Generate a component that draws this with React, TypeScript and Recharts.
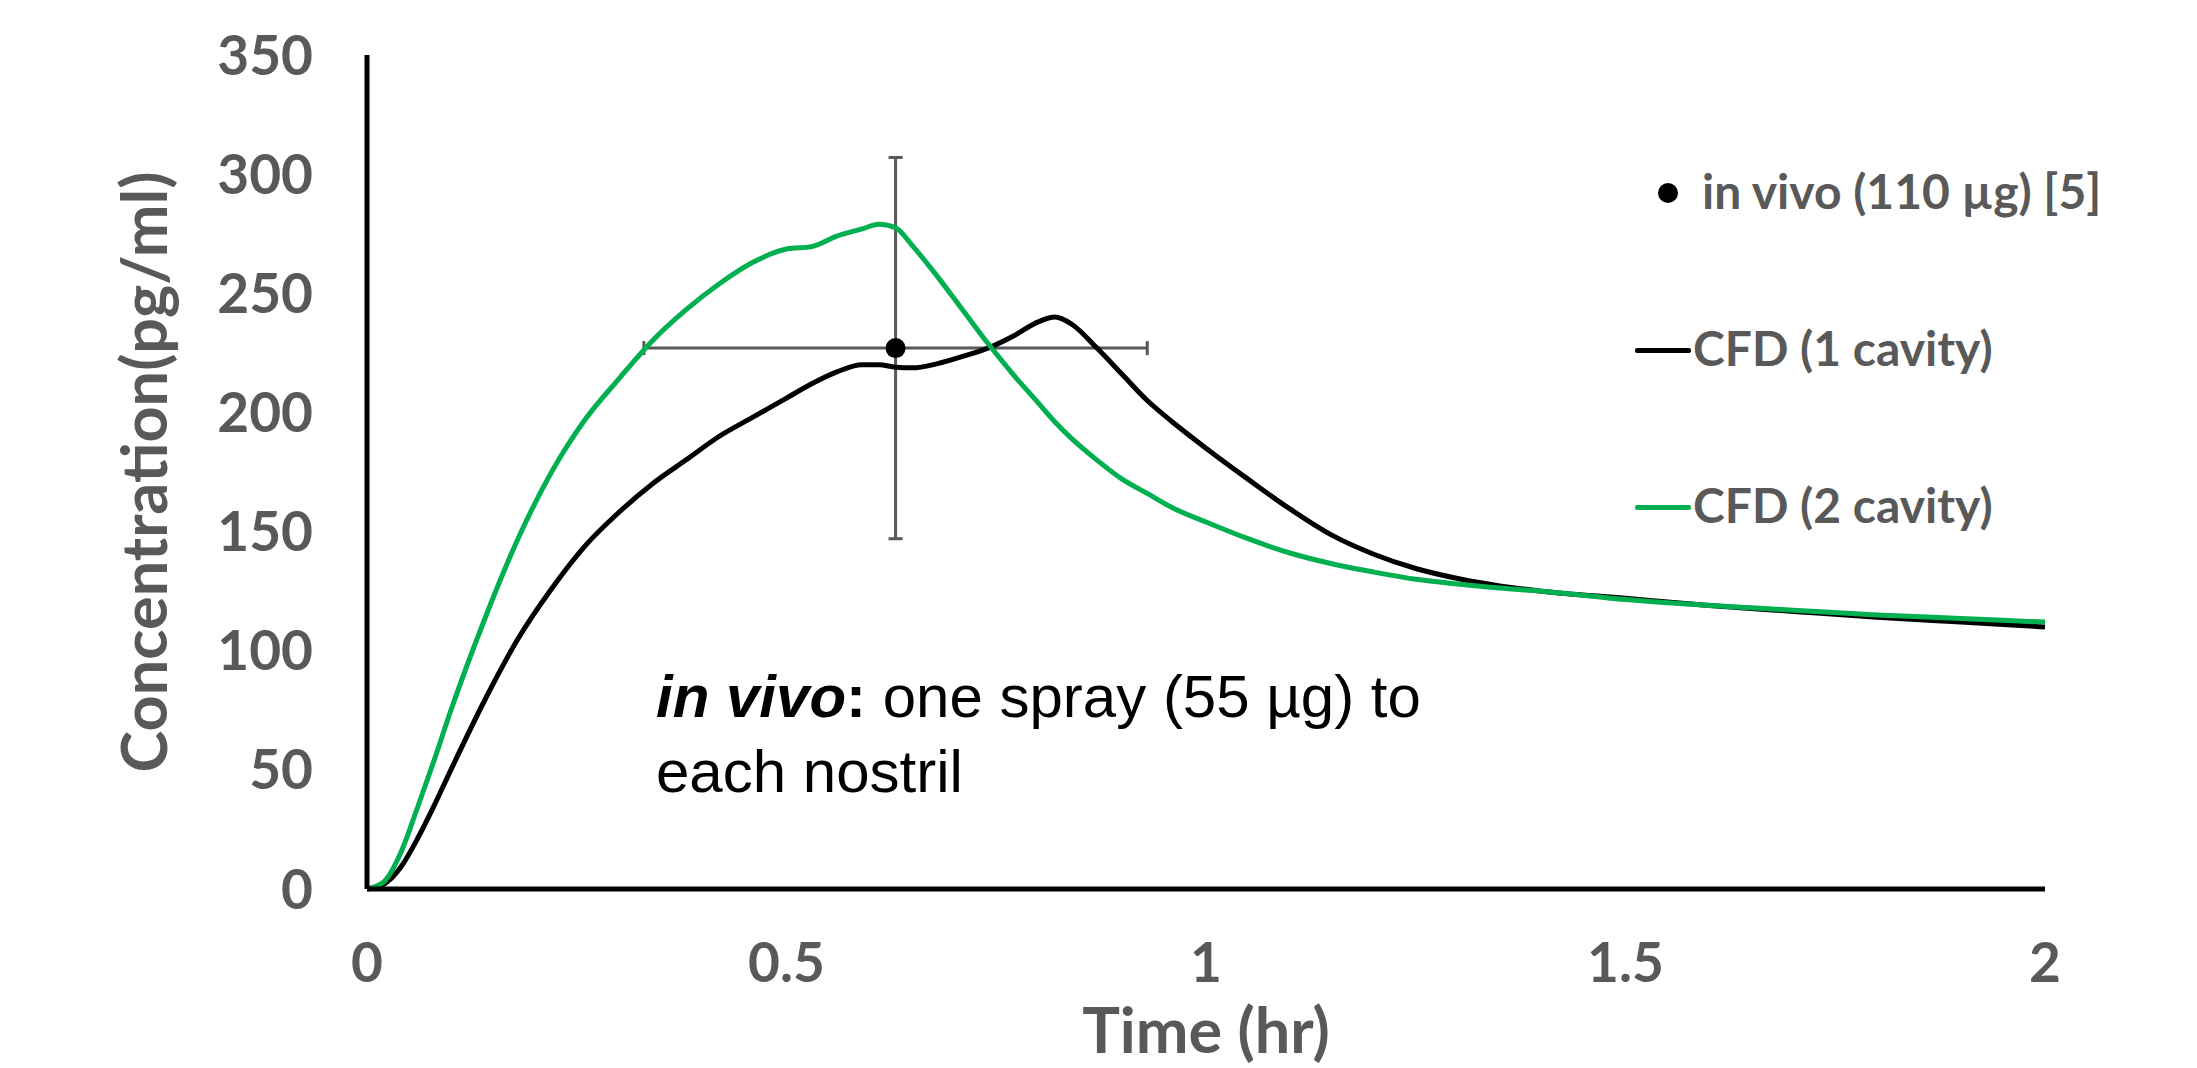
import React from "react";
import { ComposedChart, Line, Scatter, ErrorBar, XAxis, YAxis, Label } from "recharts";

// time points (hr) shared by both CFD curves
const times = [
  0, 0.02, 0.04, 0.06, 0.08, 0.1, 0.14, 0.18, 0.22, 0.26, 0.3, 0.34, 0.38, 0.42, 0.46, 0.5,
  0.53, 0.56, 0.59, 0.61, 0.63, 0.65, 0.68, 0.71, 0.74, 0.77, 0.8, 0.82, 0.84, 0.87, 0.9,
  0.93, 0.96, 1.0, 1.05, 1.1, 1.15, 1.2, 1.25, 1.3, 1.35, 1.4, 1.5, 1.6, 1.7, 1.8, 1.9, 2.0,
];
const cfdOneCavity = [
  0, 2, 9, 21, 35, 50, 79, 105, 126, 144, 158, 170, 180, 190, 198, 206,
  212, 217, 220, 220, 219, 218.7, 220.5, 223.5, 227, 232, 238, 240, 237, 227, 216,
  205, 196, 185, 172, 159.5, 148.5, 140.5, 134.5, 130.3, 127.2, 125, 122, 119, 116.5, 114, 112, 110,
];
const cfdTwoCavity = [
  0, 3, 15, 34, 54, 75, 113, 147, 175, 197, 214, 230, 243, 254, 263, 268.6,
  269.6, 274, 277, 279, 277.5, 270, 257, 243, 229, 216, 204, 196, 189, 180, 172,
  166, 160, 154, 147, 141, 136.5, 133, 130, 128, 126.3, 125, 121.5, 119, 117, 115, 113.5, 112,
];

// in vivo measurement with error bars
const invivoTime = [0.63];
const invivoConc = [227];
const invivoTimeErr = [0.3];
const invivoConcErr = [80];

const xTicks = [0, 0.5, 1, 1.5, 2];
const yTicks = [0, 50, 100, 150, 200, 250, 300, 350];

const seriesNames = ["in vivo (110 µg) [5]", "CFD (1 cavity)", "CFD (2 cavity)"];
const GREEN = "#00B050";
const GREY = "#595959";

const cfdData = times.map((t, i) => ({ t, one: cfdOneCavity[i], two: cfdTwoCavity[i] }));
const invivoData = invivoTime.map((t, i) => ({
  t,
  conc: invivoConc[i],
  errT: invivoTimeErr[i],
  errC: invivoConcErr[i],
}));

const tickStyle = { fill: GREY, fontSize: 55, fontFamily: "Lato", fontWeight: 700 };

const YTitle = ({ viewBox }: any) => {
  const cx = 142;
  const cy = viewBox.y + viewBox.height / 2;
  return (
    <text
      x={cx}
      y={cy}
      transform={`rotate(-90, ${cx}, ${cy})`}
      textAnchor="middle"
      dominantBaseline="central"
      fill={GREY}
      fontSize={63}
      fontFamily="Lato"
      fontWeight={700}
    >
      Concentration(pg/ml)
    </text>
  );
};

const XTitle = ({ viewBox }: any) => (
  <text
    x={viewBox.x + viewBox.width / 2}
    y={viewBox.y + 164}
    textAnchor="middle"
    fill={GREY}
    fontSize={63}
    fontFamily="Lato"
    fontWeight={700}
  >
    Time (hr)
  </text>
);

const legendText: React.CSSProperties = {
  position: "absolute",
  fontFamily: "Lato",
  fontWeight: 700,
  fontSize: 48,
  lineHeight: "48px",
  color: GREY,
  whiteSpace: "nowrap",
};

export default function App() {
  return (
    <div style={{ position: "absolute", left: 0, top: 0, width: 2197, height: 1068, background: "#fff" }}>
      <ComposedChart
        width={2197}
        height={1068}
        data={cfdData}
        margin={{ top: 55, right: 152, left: 0, bottom: 0 }}
      >
        <XAxis
          dataKey="t"
          type="number"
          domain={[0, 2]}
          ticks={xTicks}
          height={179}
          axisLine={{ stroke: "#000", strokeWidth: 5 }}
          tickLine={false}
          tickSize={0}
          tickMargin={54}
          tick={tickStyle}
        >
          <Label content={<XTitle />} />
        </XAxis>
        <YAxis
          type="number"
          domain={[0, 350]}
          ticks={yTicks}
          width={367}
          axisLine={{ stroke: "#000", strokeWidth: 5 }}
          tickLine={false}
          tickSize={0}
          tickMargin={54}
          tick={tickStyle}
        >
          <Label content={<YTitle />} />
        </YAxis>
        <Scatter
          name={seriesNames[0]}
          data={invivoData}
          dataKey="conc"
          fill="#000"
          isAnimationActive={false}
          shape={(p: any) => <circle cx={p.cx} cy={p.cy} r={10} fill="#000" />}
        >
          <ErrorBar dataKey="errC" direction="y" width={7} stroke={GREY} strokeWidth={3} />
          <ErrorBar dataKey="errT" direction="x" width={7} stroke={GREY} strokeWidth={3} />
        </Scatter>
        <Line
          name={seriesNames[1]}
          type="monotone"
          dataKey="one"
          stroke="#000"
          strokeWidth={5}
          dot={false}
          isAnimationActive={false}
        />
        <Line
          name={seriesNames[2]}
          type="monotone"
          dataKey="two"
          stroke={GREEN}
          strokeWidth={5}
          dot={false}
          isAnimationActive={false}
        />
      </ComposedChart>

      {/* legend */}
      <div style={{ position: "absolute", left: 1658, top: 183, width: 20, height: 20, borderRadius: 10, background: "#000" }} />
      <div style={{ ...legendText, left: 1702, top: 167 }}>{seriesNames[0]}</div>
      <div style={{ position: "absolute", left: 1635, top: 348, width: 56, height: 5, borderRadius: 2, background: "#000" }} />
      <div style={{ ...legendText, left: 1693, top: 324 }}>{seriesNames[1]}</div>
      <div style={{ position: "absolute", left: 1635, top: 505, width: 56, height: 5, borderRadius: 2, background: GREEN }} />
      <div style={{ ...legendText, left: 1693, top: 481 }}>{seriesNames[2]}</div>

      {/* annotation */}
      <div
        style={{
          position: "absolute",
          left: 656,
          top: 659,
          fontFamily: "'Liberation Sans', Arial, sans-serif",
          fontSize: 60,
          lineHeight: "75px",
          color: "#000",
          whiteSpace: "nowrap",
        }}
      >
        <b><i>in vivo</i>:</b> one spray (55 µg) to
        <br />
        each nostril
      </div>
    </div>
  );
}
